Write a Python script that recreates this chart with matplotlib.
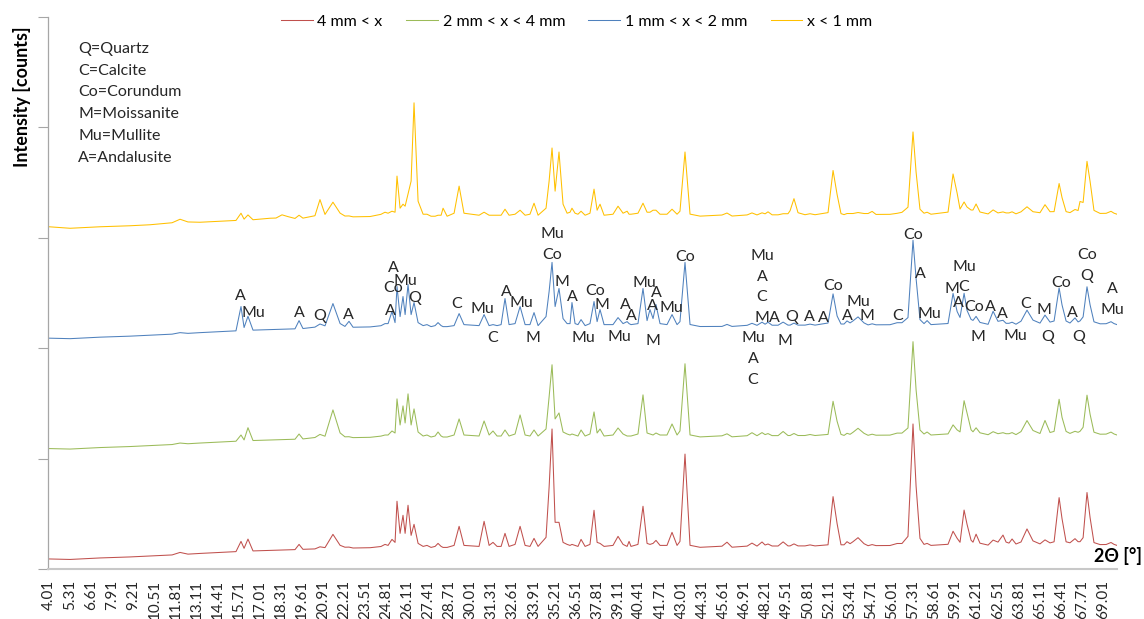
import matplotlib
matplotlib.use("Agg")
import matplotlib.pyplot as plt
import numpy as np

plt.rcParams['font.family'] = ['Lato', 'DejaVu Sans']

two_theta = [
    4.01, 5.31, 7.16, 9.00, 10.24, 11.60, 12.09, 12.58, 13.32, 15.17,
    15.54, 15.85, 16.04, 16.28, 16.59, 17.64, 18.01, 18.38, 18.75, 19.18,
    19.43, 19.67, 20.41, 20.72, 21.03, 21.52, 21.96, 22.26, 22.51, 22.76,
    23.81, 24.48, 24.73, 24.92, 25.16, 25.35, 25.47, 25.66, 25.84, 25.97,
    26.15, 26.34, 26.52, 26.77, 27.08, 27.32, 27.57, 27.82, 28.00, 28.19,
    28.31, 28.56, 28.99, 29.30, 29.60, 30.53, 30.84, 31.15, 31.39, 31.64,
    31.89, 32.13, 32.38, 32.75, 33.06, 33.37, 33.67, 33.92, 34.17, 34.66,
    34.85, 35.03, 35.22, 35.46, 35.71, 35.96, 36.14, 36.26, 36.45, 36.63,
    36.82, 37.07, 37.37, 37.62, 37.81, 37.99, 38.24, 38.79, 39.10, 39.41,
    39.66, 39.78, 39.90, 40.33, 40.64, 40.89, 41.07, 41.26, 41.44, 41.69,
    42.12, 42.43, 42.74, 42.92, 43.23, 43.54, 44.16, 45.51, 45.82, 46.13,
    47.06, 47.36, 47.67, 47.98, 48.17, 48.35, 48.60, 48.97, 49.28, 49.58,
    49.71, 49.95, 50.20, 50.63, 50.94, 51.25, 52.05, 52.36, 52.61, 52.85,
    53.04, 53.22, 53.41, 53.59, 53.90, 54.27, 54.52, 54.77, 55.01, 55.87,
    56.31, 56.61, 56.98, 57.29, 57.48, 57.72, 57.97, 58.16, 58.40, 59.45,
    59.76, 60.01, 60.19, 60.44, 60.62, 60.87, 60.99, 61.18, 61.42, 61.92,
    62.23, 62.53, 62.84, 63.03, 63.21, 63.40, 63.64, 63.95, 64.32, 64.69,
    65.12, 65.43, 65.74, 65.99, 66.30, 66.48, 66.73, 66.97, 67.28, 67.47,
    67.59, 67.78, 68.02, 68.21, 68.45, 68.83, 69.20, 69.50, 69.69, 69.87,
]

# common background (counts)
background = [
    100, 95, 110, 120, 130, 140, 145, 148, 155, 170,
    173, 175, 176, 178, 180, 185, 187, 189, 191, 193,
    195, 196, 200, 201, 203, 205, 206, 207, 208, 209,
    212, 214, 215, 215, 215, 215, 215, 215, 215, 215,
    215, 215, 215, 215, 215, 215, 215, 215, 215, 215,
    215, 215, 215, 215, 215, 215, 215, 215, 215, 215,
    215, 215, 215, 215, 215, 215, 215, 215, 215, 215,
    215, 215, 215, 215, 215, 215, 215, 215, 215, 215,
    215, 215, 215, 215, 215, 215, 215, 215, 215, 215,
    215, 215, 215, 215, 215, 215, 215, 215, 215, 215,
    215, 215, 215, 215, 215, 216, 216, 217, 217, 217,
    218, 218, 218, 219, 219, 219, 219, 219, 220, 220,
    220, 220, 220, 220, 220, 220, 221, 221, 221, 221,
    221, 222, 222, 222, 222, 222, 222, 223, 223, 224,
    224, 224, 225, 225, 225, 225, 225, 225, 225, 226,
    226, 226, 226, 227, 227, 227, 227, 227, 227, 228,
    228, 228, 228, 228, 228, 229, 229, 229, 229, 230,
    230, 230, 230, 231, 231, 231, 231, 231, 232, 232,
    232, 232, 232, 232, 233, 233, 234, 234, 235, 235,
]

# net intensity above background (counts)
red_counts = [
    0, 0, 0, 0, 0, 0, 20, 0, 0, 0,
    0, 100, 30, 120, 0, 0, 0, 0, 0, 0,
    50, 0, 0, 20, 10, 140, 30, 10, 10, 0,
    0, 10, 30, 20, 80, 50, 460, 140, 320, 140,
    420, 120, 230, 40, 10, 20, 0, 10, 40, 10,
    0, 0, 20, 210, 20, 10, 260, 20, 50, 10,
    10, 140, 10, 30, 210, 20, 10, 90, 10, 100,
    600, 1180, 250, 250, 50, 30, 20, 30, 20, 10,
    80, 10, 30, 370, 50, 40, 10, 20, 110, 30,
    10, 60, 10, 30, 410, 40, 30, 40, 70, 20,
    20, 150, 20, 60, 930, 20, 0, 10, 50, 0,
    10, 40, 10, 50, 20, 30, 10, 10, 50, 10,
    10, 30, 10, 10, 20, 10, 20, 500, 230, 20,
    20, 50, 30, 50, 90, 30, 10, 20, 10, 10,
    30, 30, 100, 1220, 600, 80, 20, 30, 10, 20,
    150, 80, 40, 360, 220, 60, 40, 120, 30, 10,
    60, 40, 110, 40, 30, 70, 20, 40, 170, 50,
    20, 60, 30, 40, 480, 270, 40, 30, 70, 40,
    40, 80, 530, 280, 30, 10, 10, 30, 10, 0,
]

green_counts = [
    0, 0, 0, 0, 0, 0, 10, 0, 0, 0,
    0, 60, 10, 130, 0, 0, 0, 0, 0, 0,
    50, 0, 10, 40, 20, 280, 50, 10, 10, 0,
    0, 10, 20, 20, 60, 40, 380, 120, 310, 140,
    430, 120, 280, 50, 10, 20, 0, 10, 50, 10,
    0, 0, 20, 180, 20, 10, 160, 20, 60, 10,
    10, 70, 10, 30, 220, 20, 10, 70, 10, 80,
    400, 720, 180, 240, 50, 30, 20, 30, 20, 10,
    70, 10, 30, 250, 40, 80, 10, 20, 90, 30,
    10, 10, 10, 30, 420, 40, 30, 20, 40, 20,
    20, 130, 20, 60, 730, 20, 0, 10, 30, 0,
    10, 40, 10, 40, 20, 30, 10, 10, 50, 10,
    10, 30, 10, 10, 20, 10, 20, 350, 150, 20,
    10, 30, 20, 40, 80, 30, 10, 20, 10, 10,
    30, 30, 80, 940, 460, 60, 20, 40, 10, 20,
    110, 60, 40, 350, 230, 60, 40, 80, 30, 10,
    40, 20, 30, 20, 20, 30, 10, 40, 150, 50,
    20, 150, 30, 40, 360, 180, 40, 20, 40, 30,
    40, 80, 400, 210, 30, 10, 10, 30, 10, 0,
]

blue_counts = [
    0, 0, 0, 0, 0, 0, 10, 0, 0, 0,
    0, 240, 30, 140, 0, 0, 0, 0, 0, 0,
    80, 0, 10, 40, 20, 240, 40, 10, 60, 0,
    0, 10, 30, 30, 150, 40, 400, 100, 300, 120,
    420, 120, 240, 40, 10, 20, 0, 10, 40, 10,
    0, 0, 10, 130, 20, 10, 120, 10, 20, 10,
    20, 280, 20, 30, 200, 20, 20, 140, 10, 100,
    350, 640, 200, 380, 80, 30, 30, 240, 30, 20,
    70, 10, 30, 250, 50, 170, 20, 20, 90, 30,
    50, 30, 20, 30, 380, 60, 170, 80, 220, 30,
    20, 120, 20, 50, 640, 20, 0, 0, 20, 0,
    10, 30, 10, 40, 20, 40, 10, 10, 40, 10,
    10, 30, 10, 10, 20, 10, 30, 320, 100, 20,
    20, 50, 30, 50, 90, 30, 10, 20, 10, 10,
    30, 30, 80, 850, 470, 60, 20, 50, 10, 20,
    320, 140, 80, 320, 150, 60, 50, 90, 30, 10,
    140, 40, 50, 20, 20, 30, 10, 40, 150, 50,
    20, 100, 30, 40, 370, 200, 40, 20, 70, 30,
    40, 80, 380, 200, 30, 10, 10, 30, 10, 0,
]

yellow_counts = [
    10, 0, 0, 0, 0, 10, 40, 10, 0, 0,
    0, 70, 10, 50, 0, 10, 10, 40, 20, 0,
    30, 0, 20, 180, 30, 150, 40, 10, 10, 0,
    0, 20, 40, 30, 50, 40, 400, 80, 120, 100,
    220, 350, 1130, 150, 20, 20, 0, 0, 10, 10,
    80, 0, 30, 300, 30, 10, 40, 10, 10, 10,
    10, 70, 10, 20, 60, 10, 20, 130, 10, 80,
    350, 680, 250, 640, 120, 30, 40, 80, 30, 20,
    50, 10, 30, 270, 60, 120, 10, 20, 100, 30,
    50, 20, 20, 30, 130, 40, 40, 60, 60, 20,
    20, 70, 20, 50, 640, 20, 0, 10, 30, 0,
    10, 30, 10, 30, 20, 40, 10, 10, 20, 20,
    50, 170, 30, 10, 20, 10, 30, 450, 210, 20,
    10, 20, 20, 20, 30, 20, 20, 40, 10, 10,
    20, 30, 80, 830, 430, 60, 20, 30, 10, 30,
    410, 220, 60, 130, 80, 50, 50, 110, 30, 10,
    50, 20, 30, 20, 20, 30, 10, 30, 80, 30,
    20, 100, 30, 30, 310, 170, 30, 20, 50, 40,
    130, 120, 530, 330, 40, 10, 10, 30, 10, 0,
]

series_names = ["4 mm < x", "2 mm < x < 4 mm", "1 mm < x < 2 mm", "x < 1 mm"]
series_counts = [red_counts, green_counts, blue_counts, yellow_counts]
series_colors = ["#C0504D", "#9BBB59", "#4F81BD", "#FFC000"]
series_offsets = [0, 1100, 2200, 3300]

tick_values = [
    4.01, 5.31, 6.61, 7.91, 9.21, 10.51, 11.81, 13.11, 14.41, 15.71,
    17.01, 18.31, 19.61, 20.91, 22.21, 23.51, 24.81, 26.11, 27.41, 28.71,
    30.01, 31.31, 32.61, 33.91, 35.21, 36.51, 37.81, 39.11, 40.41, 41.71,
    43.01, 44.31, 45.61, 46.91, 48.21, 49.51, 50.81, 52.11, 53.41, 54.71,
    56.01, 57.31, 58.61, 59.91, 61.21, 62.51, 63.81, 65.11, 66.41, 67.71,
    69.01,
]

phase_key = ["Q=Quartz", "C=Calcite", "Co=Corundum", "M=Moissanite",
             "Mu=Mullite", "A=Andalusite"]

# phase labels on the 1-2 mm pattern: (text, 2theta, height)
peak_labels = [
    ("A", 15.79, 2720), ("Mu", 16.59, 2550), ("A", 19.43, 2550),
    ("Q", 20.72, 2520), ("A", 22.45, 2530), ("A", 25.22, 3000),
    ("Co", 25.22, 2800), ("Mu", 25.96, 2870), ("Q", 26.58, 2700),
    ("A", 25.04, 2570), ("C", 29.17, 2640), ("Mu", 30.71, 2590),
    ("C", 31.39, 2300), ("A", 32.19, 2760), ("Mu", 33.12, 2650),
    ("M", 33.86, 2300), ("Mu", 35.03, 3340), ("Co", 35.03, 3130),
    ("M", 35.65, 2860), ("A", 36.26, 2710), ("Co", 37.68, 2770),
    ("M", 38.11, 2630), ("Mu", 36.94, 2300), ("A", 39.53, 2630),
    ("A", 39.90, 2520), ("Mu", 39.16, 2310), ("Mu", 40.70, 2850),
    ("A", 41.44, 2750), ("A", 41.20, 2620), ("Mu", 42.37, 2600),
    ("M", 41.26, 2270), ("Co", 43.23, 3110), ("Mu", 47.98, 3120),
    ("A", 47.98, 2910), ("C", 47.98, 2710), ("M", 47.98, 2500),
    ("A", 48.72, 2500), ("Mu", 47.43, 2300), ("A", 47.43, 2090),
    ("C", 47.43, 1880), ("M", 49.40, 2270), ("Q", 49.83, 2510),
    ("A", 50.88, 2510), ("A", 51.74, 2500), ("Co", 52.36, 2820),
    ("Mu", 53.90, 2660), ("A", 53.22, 2520), ("M", 54.45, 2520),
    ("C", 56.37, 2520), ("Co", 57.29, 3330), ("A", 57.72, 2940),
    ("Mu", 58.28, 2540), ("Mu", 60.44, 3010), ("M", 59.70, 2790),
    ("C", 60.44, 2810), ("A", 60.07, 2650), ("Co", 61.05, 2610),
    ("M", 61.30, 2310), ("A", 62.04, 2610), ("A", 62.78, 2540),
    ("Mu", 63.58, 2320), ("C", 64.26, 2640), ("M", 65.37, 2580),
    ("Q", 65.62, 2310), ("Co", 66.42, 2850), ("A", 67.10, 2550),
    ("Q", 67.53, 2310), ("Co", 68.02, 3130), ("Q", 68.02, 2920),
    ("A", 69.57, 2790), ("Mu", 69.57, 2580),
]

fig = plt.figure(figsize=(11.44, 6.19), dpi=100)
ax = fig.add_axes([0.0417, 0.0808, 0.9347, 0.8917])

bg = np.array(background)
for name, counts, color, off in zip(series_names, series_counts,
                                    series_colors, series_offsets):
    ax.plot(two_theta, bg + np.array(counts) + off, color=color, lw=0.75,
            label=name)

for s, x, y in peak_labels:
    ax.text(x, y, s, ha="center", va="center", fontsize=11.5, color="#262626")

ax.set_xlim(3.93, 69.87)
ax.set_ylim(0, 5500)
ax.set_xticks(tick_values)
ax.set_xticklabels([f"{v:.2f}" for v in tick_values], rotation=90,
                   fontsize=11, color="#262626")
ax.tick_params(axis="x", length=0, pad=8)
ax.set_yticks(range(0, 5501, 1100))
ax.set_yticklabels([])
ax.tick_params(axis="y", direction="out", length=7, width=0.8, color="#A6A6A6")

for side in ["top", "right"]:
    ax.spines[side].set_visible(False)
ax.spines["left"].set_color("#A6A6A6")
ax.spines["left"].set_linewidth(0.9)
ax.spines["bottom"].set_color("#C8C8C8")
ax.spines["bottom"].set_linewidth(1.5)

fig.legend(loc="center", bbox_to_anchor=(0.504, 0.9645), ncol=4,
           frameon=False, fontsize=11.5, handlelength=2.0,
           handletextpad=0.3, columnspacing=1.45)

for i, s in enumerate(phase_key):
    fig.text(78 / 1144, 1 - (49 + 21.7 * i) / 619, s, ha="left", va="center",
             fontsize=11.5, color="#262626")

fig.text(0.0192, 0.843, "Intensity [counts]", rotation=90, ha="center",
         va="center", fontsize=13, fontweight="bold")
fig.text(0.998, 0.1018, "2Θ [°]", ha="right", va="center", fontsize=13,
         fontweight="bold")

fig.savefig("out.png", dpi=100)
